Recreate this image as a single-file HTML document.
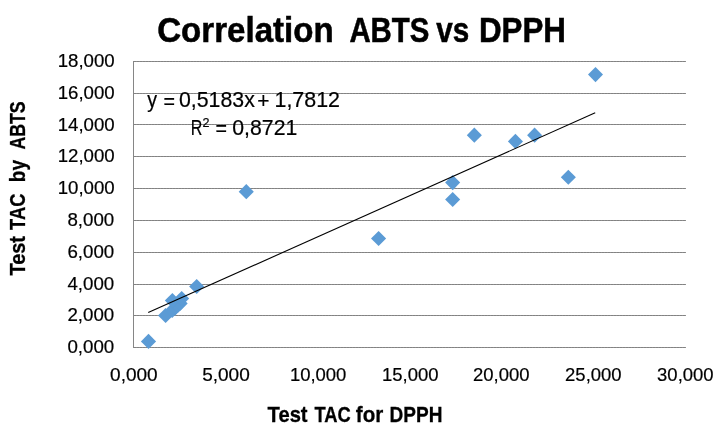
<!DOCTYPE html>
<html>
<head>
<meta charset="utf-8">
<title>Correlation ABTS vs DPPH</title>
<style>
html,body{margin:0;padding:0;background:#ffffff;}
body{width:727px;height:431px;overflow:hidden;font-family:"Liberation Sans",sans-serif;}
svg{display:block;will-change:transform;}
text{font-family:"Liberation Sans",sans-serif;fill:#000000;}
.b{font-weight:bold;}
.t{stroke:#000;stroke-width:0.55;}
.a{stroke:#000;stroke-width:0.3;}
.n{stroke:#000;stroke-width:0.2;}
</style>
</head>
<body>
<svg width="727" height="431" viewBox="0 0 727 431">
<rect x="0" y="0" width="727" height="431" fill="#ffffff"/>

<g stroke="#8e8e8e" stroke-width="1" fill="none" shape-rendering="crispEdges">
<line x1="133" y1="61.5" x2="686" y2="61.5"/>
<line x1="133" y1="93.5" x2="686" y2="93.5"/>
<line x1="133" y1="124.5" x2="686" y2="124.5"/>
<line x1="133" y1="156.5" x2="686" y2="156.5"/>
<line x1="133" y1="188.5" x2="686" y2="188.5"/>
<line x1="133" y1="220.5" x2="686" y2="220.5"/>
<line x1="133" y1="252.5" x2="686" y2="252.5"/>
<line x1="133" y1="284.5" x2="686" y2="284.5"/>
<line x1="133" y1="315.5" x2="686" y2="315.5"/>
<line x1="133" y1="347.5" x2="686" y2="347.5"/>
<line x1="133.5" y1="61" x2="133.5" y2="348" stroke="#868686"/>
</g>
<g stroke="#828282" stroke-width="1" fill="none" stroke-dasharray="2 1" shape-rendering="crispEdges">
<line x1="134" y1="61.5" x2="686" y2="61.5"/>
<line x1="134" y1="93.5" x2="686" y2="93.5"/>
<line x1="134" y1="124.5" x2="686" y2="124.5"/>
<line x1="134" y1="156.5" x2="686" y2="156.5"/>
<line x1="134" y1="188.5" x2="686" y2="188.5"/>
<line x1="134" y1="220.5" x2="686" y2="220.5"/>
<line x1="134" y1="252.5" x2="686" y2="252.5"/>
<line x1="134" y1="284.5" x2="686" y2="284.5"/>
<line x1="134" y1="315.5" x2="686" y2="315.5"/>
<line x1="134" y1="347.5" x2="686" y2="347.5"/>
</g>
<g fill="#5b9bd5">
<path d="M148.5 333.8 L156.1 341.4 L148.5 348.9 L140.9 341.4 Z"/>
<path d="M165.6 308.0 L173.2 315.6 L165.6 323.1 L158.0 315.6 Z"/>
<path d="M172.2 303.0 L179.8 310.6 L172.2 318.1 L164.6 310.6 Z"/>
<path d="M175.2 300.2 L182.8 307.8 L175.2 315.4 L167.6 307.8 Z"/>
<path d="M177.7 298.0 L185.2 305.6 L177.7 313.1 L170.1 305.6 Z"/>
<path d="M180.1 295.8 L187.7 303.4 L180.1 310.9 L172.5 303.4 Z"/>
<path d="M172.4 292.9 L179.9 300.5 L172.4 308.1 L164.8 300.5 Z"/>
<path d="M181.7 291.0 L189.2 298.6 L181.7 306.1 L174.1 298.6 Z"/>
<path d="M196.7 279.0 L204.2 286.6 L196.7 294.1 L189.1 286.6 Z"/>
<path d="M246.3 184.1 L253.8 191.7 L246.3 199.2 L238.7 191.7 Z"/>
<path d="M378.6 230.9 L386.1 238.5 L378.6 246.1 L371.0 238.5 Z"/>
<path d="M452.7 191.9 L460.2 199.5 L452.7 207.1 L445.1 199.5 Z"/>
<path d="M452.7 175.0 L460.2 182.6 L452.7 190.2 L445.1 182.6 Z"/>
<path d="M474.3 127.6 L481.9 135.2 L474.3 142.8 L466.8 135.2 Z"/>
<path d="M515.4 133.8 L523.0 141.4 L515.4 148.9 L507.9 141.4 Z"/>
<path d="M534.6 127.6 L542.1 135.2 L534.6 142.8 L527.1 135.2 Z"/>
<path d="M568.3 169.7 L575.9 177.3 L568.3 184.8 L560.8 177.3 Z"/>
<path d="M595.5 67.1 L603.0 74.6 L595.5 82.2 L588.0 74.6 Z"/>
</g>
<line x1="148.23" y1="312.61" x2="595.21" y2="112.74" stroke="#000000" stroke-width="1.1"/>
<text class="b t" x="157.2" y="41.7" font-size="35.8" textLength="176.5" lengthAdjust="spacingAndGlyphs">Correlation</text>
<text class="b t" x="349.4" y="41.7" font-size="35.8" textLength="80.0" lengthAdjust="spacingAndGlyphs">ABTS</text>
<text class="b t" x="436.3" y="41.7" font-size="35.8" textLength="33.0" lengthAdjust="spacingAndGlyphs">vs</text>
<text class="b t" x="478.9" y="41.7" font-size="35.8" textLength="87.0" lengthAdjust="spacingAndGlyphs">DPPH</text>
<text class="n" x="67.4" y="353.1" font-size="18.4" textLength="46.8" lengthAdjust="spacingAndGlyphs">0,000</text>
<text class="n" x="67.4" y="321.3" font-size="18.4" textLength="46.8" lengthAdjust="spacingAndGlyphs">2,000</text>
<text class="n" x="67.4" y="289.5" font-size="18.4" textLength="46.8" lengthAdjust="spacingAndGlyphs">4,000</text>
<text class="n" x="67.4" y="257.8" font-size="18.4" textLength="46.8" lengthAdjust="spacingAndGlyphs">6,000</text>
<text class="n" x="67.4" y="226.0" font-size="18.4" textLength="46.8" lengthAdjust="spacingAndGlyphs">8,000</text>
<text class="n" x="57.7" y="194.2" font-size="18.4" textLength="57.0" lengthAdjust="spacingAndGlyphs">10,000</text>
<text class="n" x="57.7" y="162.4" font-size="18.4" textLength="57.0" lengthAdjust="spacingAndGlyphs">12,000</text>
<text class="n" x="57.7" y="130.6" font-size="18.4" textLength="57.0" lengthAdjust="spacingAndGlyphs">14,000</text>
<text class="n" x="57.7" y="98.9" font-size="18.4" textLength="57.0" lengthAdjust="spacingAndGlyphs">16,000</text>
<text class="n" x="57.7" y="67.1" font-size="18.4" textLength="57.0" lengthAdjust="spacingAndGlyphs">18,000</text>
<text class="n" x="110.1" y="381.2" font-size="18.4" textLength="47.6" lengthAdjust="spacingAndGlyphs">0,000</text>
<text class="n" x="202.2" y="381.2" font-size="18.4" textLength="47.6" lengthAdjust="spacingAndGlyphs">5,000</text>
<text class="n" x="289.9" y="381.2" font-size="18.4" textLength="56.5" lengthAdjust="spacingAndGlyphs">10,000</text>
<text class="n" x="382.0" y="381.2" font-size="18.4" textLength="56.5" lengthAdjust="spacingAndGlyphs">15,000</text>
<text class="n" x="473.0" y="381.2" font-size="18.4" textLength="56.5" lengthAdjust="spacingAndGlyphs">20,000</text>
<text class="n" x="565.1" y="381.2" font-size="18.4" textLength="56.5" lengthAdjust="spacingAndGlyphs">25,000</text>
<text class="n" x="657.1" y="381.2" font-size="18.4" textLength="56.5" lengthAdjust="spacingAndGlyphs">30,000</text>
<text class="b a" x="267.6" y="421.8" font-size="22.0" textLength="40.0" lengthAdjust="spacingAndGlyphs">Test</text>
<text class="b a" x="314.4" y="421.8" font-size="22.0" textLength="36.3" lengthAdjust="spacingAndGlyphs">TAC</text>
<text class="b a" x="355.8" y="421.8" font-size="22.0" textLength="27.4" lengthAdjust="spacingAndGlyphs">for</text>
<text class="b a" x="389.6" y="421.8" font-size="22.0" textLength="52.9" lengthAdjust="spacingAndGlyphs">DPPH</text>
<g transform="translate(24.6,0) rotate(-90)">
<text class="b a" x="-275.6" y="0.0" font-size="22.0" textLength="39.6" lengthAdjust="spacingAndGlyphs">Test</text>
<text class="b a" x="-229.9" y="0.0" font-size="22.0" textLength="36.3" lengthAdjust="spacingAndGlyphs">TAC</text>
<text class="b a" x="-182.2" y="0.0" font-size="22.0" textLength="22.2" lengthAdjust="spacingAndGlyphs">by</text>
<text class="b a" x="-149.6" y="0.0" font-size="22.0" textLength="48.3" lengthAdjust="spacingAndGlyphs">ABTS</text>
</g>
<text class="n" x="147.2" y="106.9" font-size="22.1" textLength="9.8" lengthAdjust="spacingAndGlyphs">y</text>
<text class="n" x="163.4" y="108.8" font-size="22.1" textLength="11.5" lengthAdjust="spacingAndGlyphs">=</text>
<text class="n" x="179.0" y="106.9" font-size="22.1" textLength="75.8" lengthAdjust="spacingAndGlyphs">0,5183x</text>
<text class="n" x="257.3" y="108.4" font-size="22.1" textLength="12.2" lengthAdjust="spacingAndGlyphs">+</text>
<text class="n" x="274.5" y="106.9" font-size="22.1" textLength="65.5" lengthAdjust="spacingAndGlyphs">1,7812</text>
<text class="n" x="190.8" y="134.9" font-size="22.1" textLength="11.6" lengthAdjust="spacingAndGlyphs">R</text>
<text class="n" x="202.4" y="127.2" font-size="13.2" textLength="7.0" lengthAdjust="spacingAndGlyphs">2</text>
<text class="n" x="215.4" y="136.4" font-size="22.1" textLength="11.5" lengthAdjust="spacingAndGlyphs">=</text>
<text class="n" x="232.3" y="134.9" font-size="22.1" textLength="65.0" lengthAdjust="spacingAndGlyphs">0,8721</text>
</svg>
</body>
</html>
